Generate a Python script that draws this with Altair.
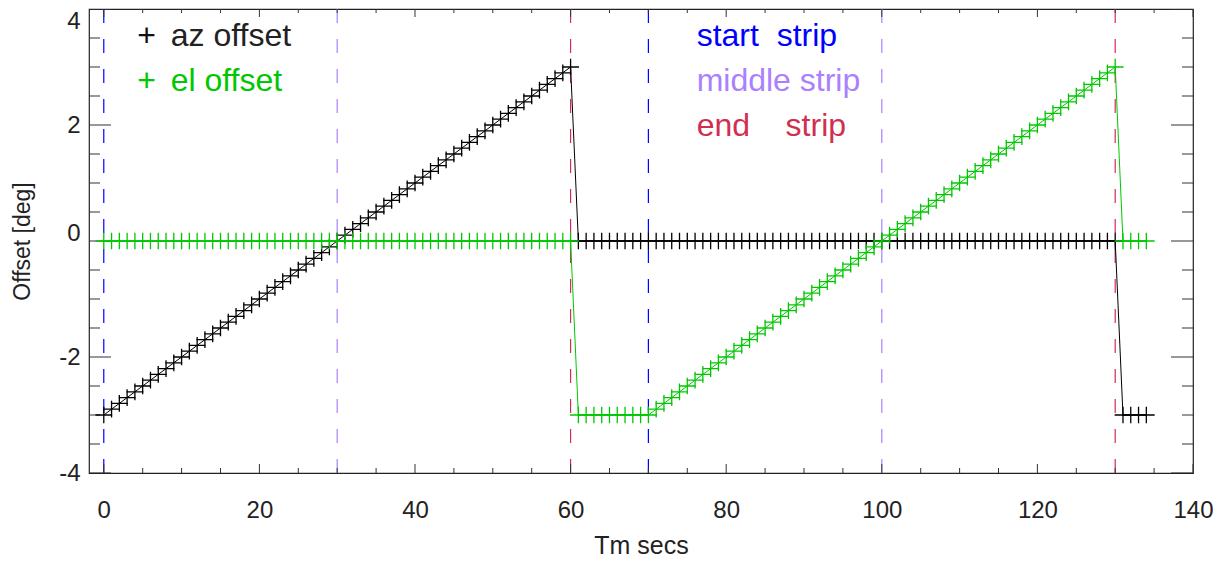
import altair as alt
import pandas as pd

# ---------------- data ----------------
time_s = [
    0, 1, 2, 3, 4, 5, 6, 7, 8, 9,
    10, 11, 12, 13, 14, 15, 16, 17, 18, 19,
    20, 21, 22, 23, 24, 25, 26, 27, 28, 29,
    30, 31, 32, 33, 34, 35, 36, 37, 38, 39,
    40, 41, 42, 43, 44, 45, 46, 47, 48, 49,
    50, 51, 52, 53, 54, 55, 56, 57, 58, 59,
    60, 61, 62, 63, 64, 65, 66, 67, 68, 69,
    70, 71, 72, 73, 74, 75, 76, 77, 78, 79,
    80, 81, 82, 83, 84, 85, 86, 87, 88, 89,
    90, 91, 92, 93, 94, 95, 96, 97, 98, 99,
    100, 101, 102, 103, 104, 105, 106, 107, 108, 109,
    110, 111, 112, 113, 114, 115, 116, 117, 118, 119,
    120, 121, 122, 123, 124, 125, 126, 127, 128, 129,
    130, 131, 132, 133, 134,
]

az_offset = [
    -3.0, -2.9, -2.8, -2.7, -2.6, -2.5, -2.4, -2.3, -2.2, -2.1,
    -2.0, -1.9, -1.8, -1.7, -1.6, -1.5, -1.4, -1.3, -1.2, -1.1,
    -1.0, -0.9, -0.8, -0.7, -0.6, -0.5, -0.4, -0.3, -0.2, -0.1,
    0.0, 0.1, 0.2, 0.3, 0.4, 0.5, 0.6, 0.7, 0.8, 0.9,
    1.0, 1.1, 1.2, 1.3, 1.4, 1.5, 1.6, 1.7, 1.8, 1.9,
    2.0, 2.1, 2.2, 2.3, 2.4, 2.5, 2.6, 2.7, 2.8, 2.9,
    3.0, 0.0, 0.0, 0.0, 0.0, 0.0, 0.0, 0.0, 0.0, 0.0,
    0.0, 0.0, 0.0, 0.0, 0.0, 0.0, 0.0, 0.0, 0.0, 0.0,
    0.0, 0.0, 0.0, 0.0, 0.0, 0.0, 0.0, 0.0, 0.0, 0.0,
    0.0, 0.0, 0.0, 0.0, 0.0, 0.0, 0.0, 0.0, 0.0, 0.0,
    0.0, 0.0, 0.0, 0.0, 0.0, 0.0, 0.0, 0.0, 0.0, 0.0,
    0.0, 0.0, 0.0, 0.0, 0.0, 0.0, 0.0, 0.0, 0.0, 0.0,
    0.0, 0.0, 0.0, 0.0, 0.0, 0.0, 0.0, 0.0, 0.0, 0.0,
    0.0, -3.0, -3.0, -3.0, -3.0,
]

el_offset = [
    0.0, 0.0, 0.0, 0.0, 0.0, 0.0, 0.0, 0.0, 0.0, 0.0,
    0.0, 0.0, 0.0, 0.0, 0.0, 0.0, 0.0, 0.0, 0.0, 0.0,
    0.0, 0.0, 0.0, 0.0, 0.0, 0.0, 0.0, 0.0, 0.0, 0.0,
    0.0, 0.0, 0.0, 0.0, 0.0, 0.0, 0.0, 0.0, 0.0, 0.0,
    0.0, 0.0, 0.0, 0.0, 0.0, 0.0, 0.0, 0.0, 0.0, 0.0,
    0.0, 0.0, 0.0, 0.0, 0.0, 0.0, 0.0, 0.0, 0.0, 0.0,
    0.0, -3.0, -3.0, -3.0, -3.0, -3.0, -3.0, -3.0, -3.0, -3.0,
    -3.0, -2.9, -2.8, -2.7, -2.6, -2.5, -2.4, -2.3, -2.2, -2.1,
    -2.0, -1.9, -1.8, -1.7, -1.6, -1.5, -1.4, -1.3, -1.2, -1.1,
    -1.0, -0.9, -0.8, -0.7, -0.6, -0.5, -0.4, -0.3, -0.2, -0.1,
    0.0, 0.1, 0.2, 0.3, 0.4, 0.5, 0.6, 0.7, 0.8, 0.9,
    1.0, 1.1, 1.2, 1.3, 1.4, 1.5, 1.6, 1.7, 1.8, 1.9,
    2.0, 2.1, 2.2, 2.3, 2.4, 2.5, 2.6, 2.7, 2.8, 2.9,
    3.0, 0.0, 0.0, 0.0, 0.0,
]

strip_x = [0, 30, 60, 70, 100, 130]
strip_kind = ["start", "middle", "end", "start", "middle", "end"]
kind_names = ["start", "middle", "end"]
kind_colors = ["#0000ff", "#aa80ff", "#d0304f"]

x_major = [0, 20, 40, 60, 80, 100, 120, 140]
x_minor = [5, 10, 15, 25, 30, 35, 45, 50, 55, 65, 70, 75, 85, 90, 95,
           105, 110, 115, 125, 130, 135]
y_major = [-4, -2, 0, 2, 4]
y_minor = [-3.5, -3, -2.5, -1.5, -1, -0.5, 0.5, 1, 1.5, 2.5, 3, 3.5]

# annotation texts (placed in data units)
NB = "\u00a0"
ann_text = ["+", "az offset", "+", "el offset",
            "start" + NB * 2 + "strip", "middle strip", "end" + NB * 4 + "strip"]
ann_x = [5.5, 8.6, 5.5, 8.6, 76.2, 76.2, 76.2]
ann_y = [3.36, 3.36, 2.59, 2.59, 3.36, 2.59, 1.81]
ann_color = ["#111111", "#222222", "#00c800", "#00c800", "#0000ff", "#aa80ff", "#d0304f"]
ann_align = ["center", "left", "center", "left", "left", "left", "left"]

X_MIN, X_MAX = -1.9, 140
Y_MIN, Y_MAX = -4, 4
BLACK = "#000000"
GREEN = "#00c800"
FONT = "Liberation Sans"

# ---------------- tables ----------------
series = pd.DataFrame({"t": time_s, "az": az_offset, "el": el_offset})
strips = pd.DataFrame({"t": strip_x, "kind": strip_kind})

xt_rows = []
for v in x_major:
    xt_rows += [{"t": v, "v": Y_MIN, "len": 18}, {"t": v, "v": Y_MAX, "len": 16}]
for v in x_minor:
    xt_rows += [{"t": v, "v": Y_MIN, "len": 10}, {"t": v, "v": Y_MAX, "len": 8}]
xticks = pd.DataFrame(xt_rows)

yt_rows = []
for v in y_major:
    yt_rows += [{"t": X_MIN, "v": v, "len": 44}, {"t": X_MAX, "v": v, "len": 44}]
for v in y_minor:
    yt_rows += [{"t": X_MIN, "v": v, "len": 22}, {"t": X_MAX, "v": v, "len": 22}]
yticks = pd.DataFrame(yt_rows)

ann = pd.DataFrame({"text": ann_text, "t": ann_x, "v": ann_y,
                    "color": ann_color, "align": ann_align})

# ---------------- scales / axes ----------------
xs = alt.Scale(domain=[X_MIN, X_MAX], nice=False, zero=False)
ys = alt.Scale(domain=[Y_MIN, Y_MAX], nice=False, zero=False)

xaxis = alt.Axis(values=x_major, ticks=False, domain=False, grid=False,
                 labelFontSize=24, labelFont=FONT, labelColor="#222222",
                 labelPadding=25, labelFlush=False, labelOverlap=False,
                 labelExpr="datum.value + ''",
                 title="Tm secs", titleFont=FONT, titleFontSize=25,
                 titleFontWeight="normal", titleColor="#222222", titlePadding=11)
yaxis = alt.Axis(values=y_major, ticks=False, domain=False, grid=False,
                 labelFontSize=24, labelFont=FONT, labelColor="#222222",
                 labelPadding=9, labelFlush=False, labelOverlap=False,
                 labelExpr="datum.value + ''",
                 labelOffset={"condition": [{"test": "datum.value == 4", "value": 12},
                                            {"test": "datum.value == 0", "value": -8}],
                              "value": 0},
                 title="Offset [deg]", titleFont=FONT, titleFontSize=23,
                 titleFontWeight="normal", titleColor="#222222", titlePadding=24)


def X(field):
    return alt.X(f"{field}:Q", scale=xs, axis=xaxis)


def Y(field):
    return alt.Y(f"{field}:Q", scale=ys, axis=yaxis)


plus = "M-1,0L1,0M0,-1L0,1"

strip_layer = alt.Chart(strips).mark_rule(strokeWidth=1.2, strokeDash=[14, 16]).encode(
    x=X("t"),
    color=alt.Color("kind:N", scale=alt.Scale(domain=kind_names, range=kind_colors), legend=None),
)

xtick_layer = alt.Chart(xticks).mark_tick(orient="vertical", clip=True, thickness=1,
                                          color="#333333", opacity=1).encode(
    x=X("t"), y=Y("v"), size=alt.Size("len:Q", scale=None, legend=None))

ytick_layer = alt.Chart(yticks).mark_tick(orient="horizontal", clip=True, thickness=1,
                                          color="#333333", opacity=1).encode(
    x=X("t"), y=Y("v"), size=alt.Size("len:Q", scale=None, legend=None))

az_line = alt.Chart(series).mark_line(color=BLACK, strokeWidth=1).encode(
    x=X("t"), y=Y("az"), order="t:Q")
az_pts = alt.Chart(series).mark_point(shape=plus, filled=False, size=280, color=BLACK,
                                      strokeWidth=1.3, opacity=1).encode(x=X("t"), y=Y("az"))
el_line = alt.Chart(series).mark_line(color=GREEN, strokeWidth=1).encode(
    x=X("t"), y=Y("el"), order="t:Q")
el_pts = alt.Chart(series).mark_point(shape=plus, filled=False, size=280, color=GREEN,
                                      strokeWidth=1.3, opacity=1).encode(x=X("t"), y=Y("el"))

text_layers = []
for align in ["left", "center"]:
    sub = ann[ann["align"] == align]
    text_layers.append(
        alt.Chart(sub).mark_text(align=align, baseline="alphabetic", fontSize=32, font=FONT).encode(
            x=X("t"), y=Y("v"), text="text:N",
            color=alt.Color("color:N", scale=None, legend=None))
    )

chart = alt.layer(
    strip_layer, xtick_layer, ytick_layer, az_line, az_pts, el_line, el_pts, *text_layers
).properties(
    width=1104, height=464,
    autosize=alt.AutoSizeParams(type="none"),
    padding={"left": 81, "top": 1, "right": 20, "bottom": 84},
    background="white",
).configure_view(stroke="#222222", strokeWidth=1.2)

chart.save("out.html", embed_options={"renderer": "svg", "actions": False})
